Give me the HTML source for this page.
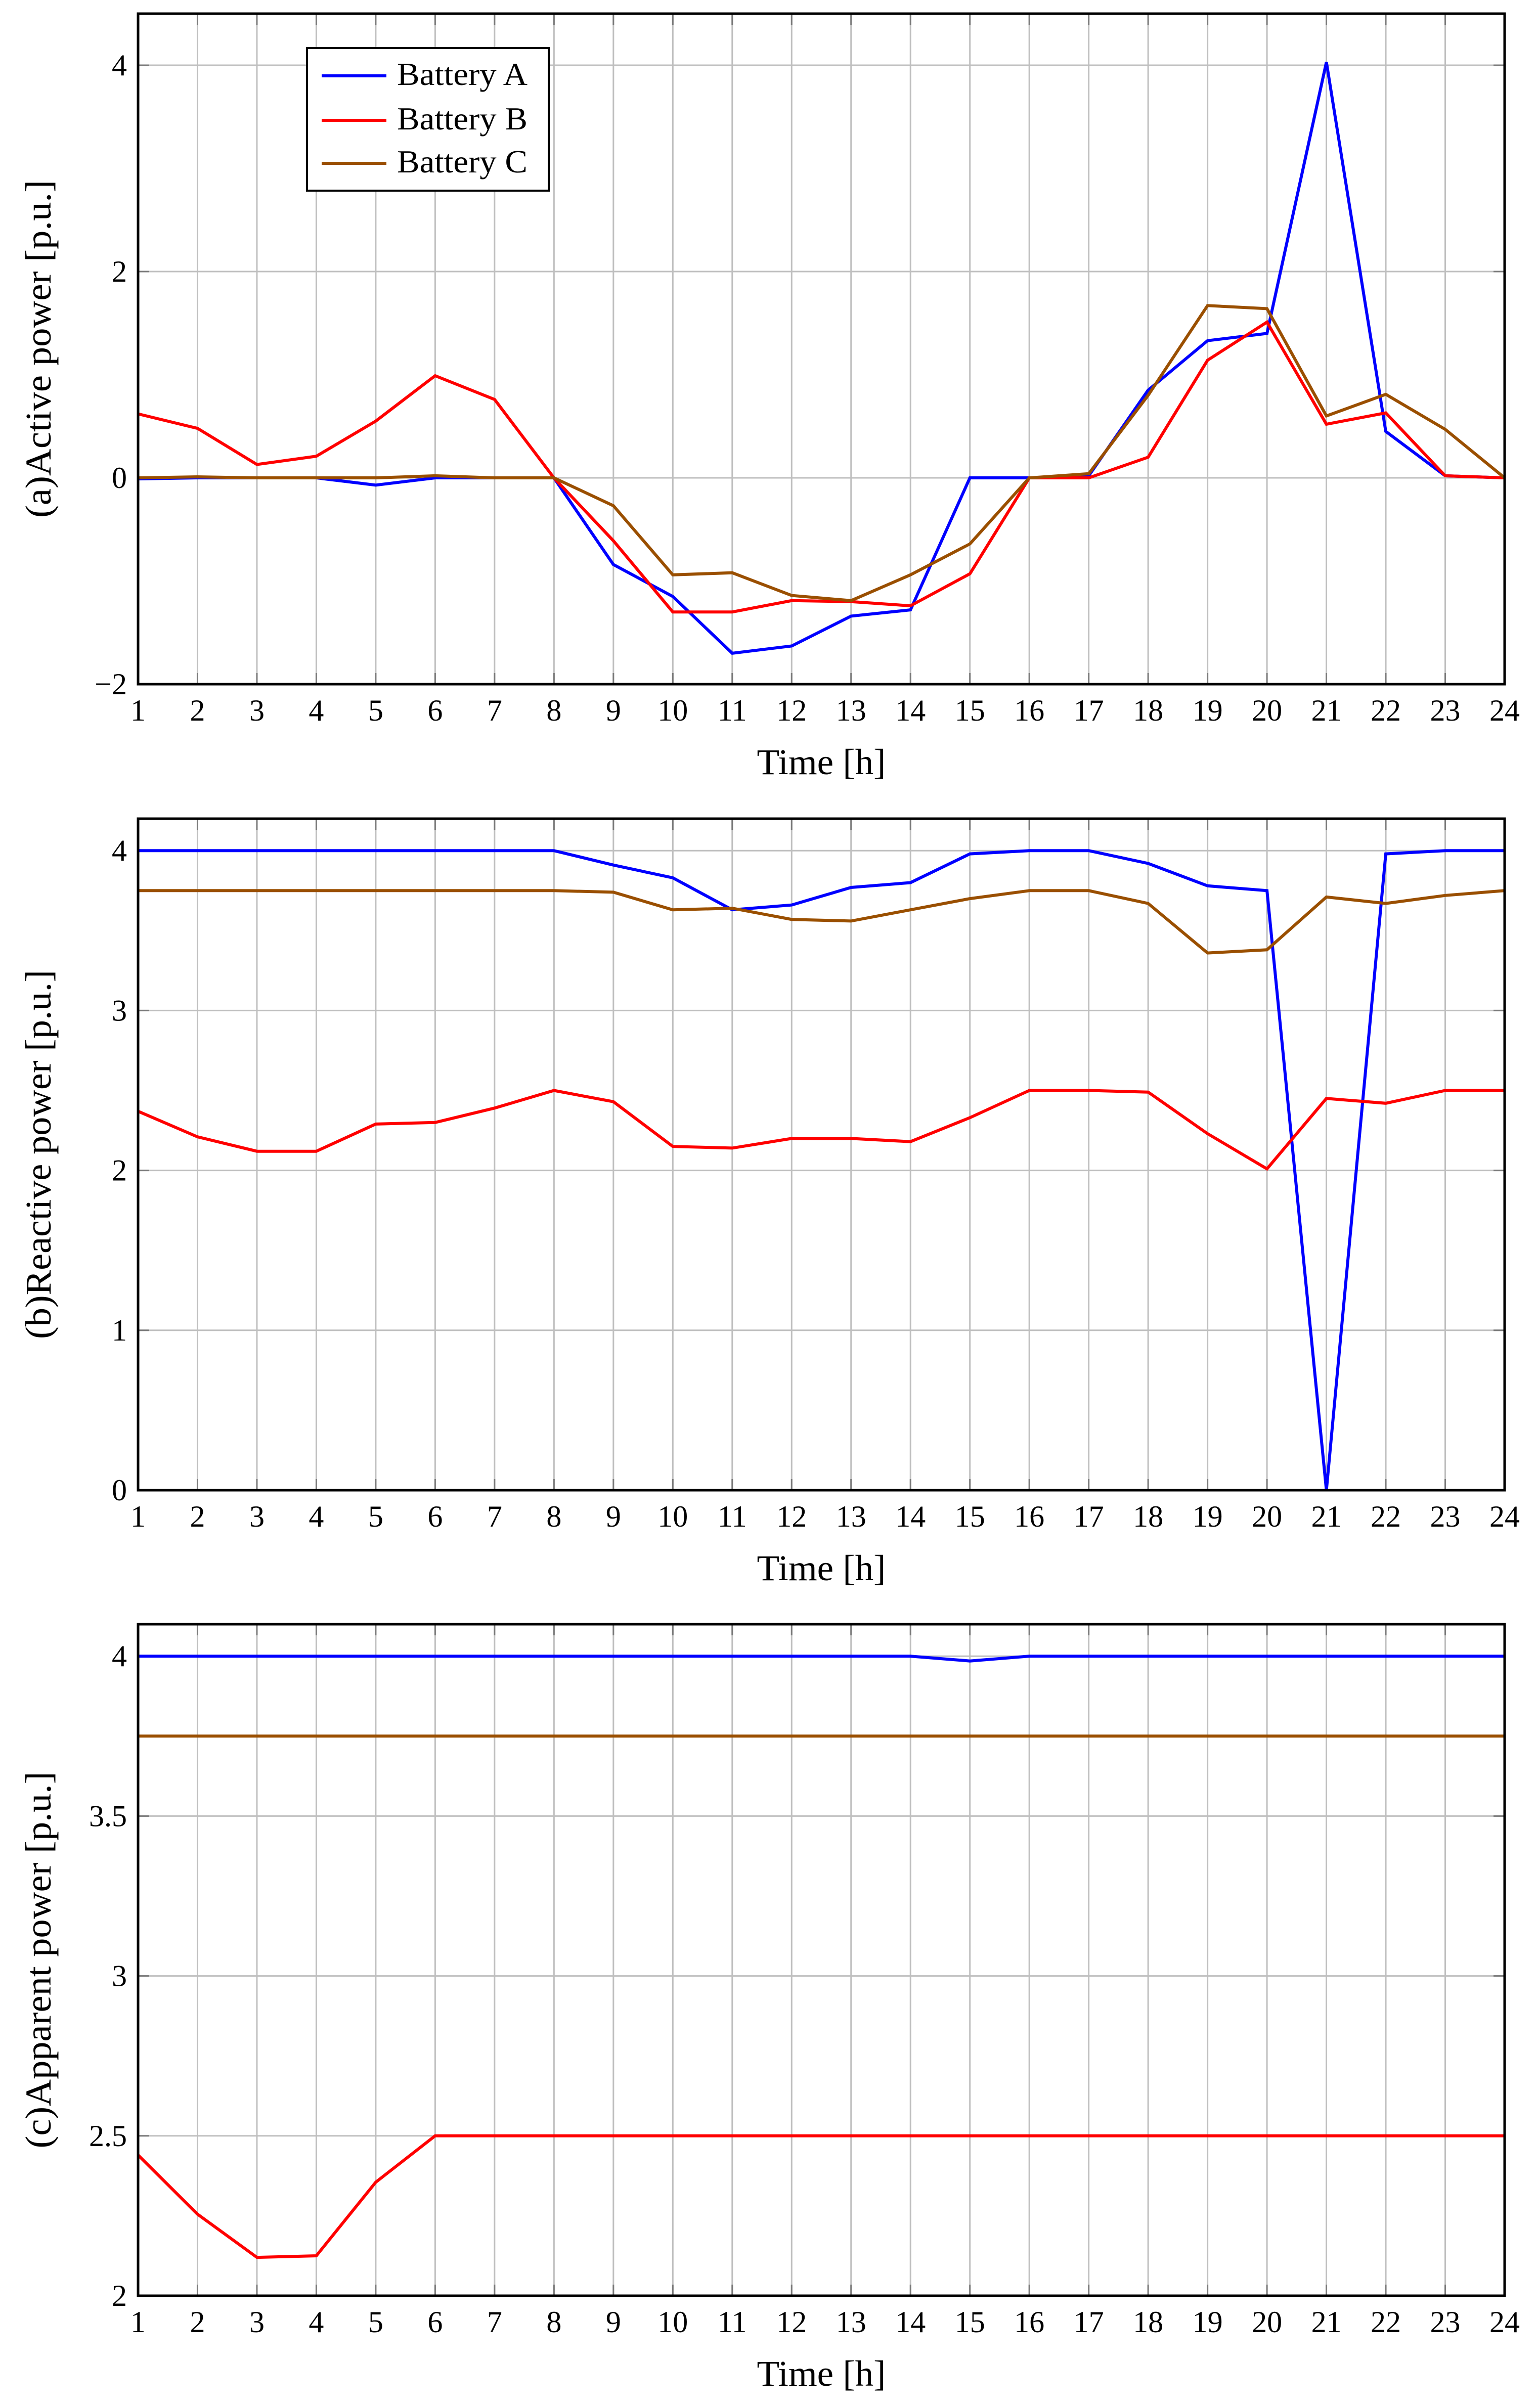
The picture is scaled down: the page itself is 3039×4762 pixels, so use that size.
<!DOCTYPE html>
<html><head><meta charset="utf-8">
<style>
html,body{margin:0;padding:0;background:#fff;}
svg{display:block;}
text{font-family:"Liberation Serif",serif;fill:#000;}
</style></head>
<body>
<svg id="chart" xmlns="http://www.w3.org/2000/svg" width="3039" height="4762" viewBox="0 0 3039 4762"></svg>
<script>
const hours = [1,2,3,4,5,6,7,8,9,10,11,12,13,14,15,16,17,18,19,20,21,22,23,24];
const seriesNames = ["Battery A","Battery B","Battery C"];
const activeA = [-0.01,0,0,0,-0.07,0,0,0,-0.84,-1.15,-1.70,-1.63,-1.34,-1.28,0,0,0.02,0.85,1.33,1.40,4.03,0.45,0.02,0];
const activeB = [0.62,0.48,0.13,0.21,0.55,0.99,0.76,0,-0.61,-1.30,-1.30,-1.19,-1.20,-1.24,-0.93,0,0,0.20,1.14,1.51,0.52,0.63,0.02,0];
const activeC = [0,0.01,0,0,0,0.02,0,0,-0.27,-0.94,-0.92,-1.14,-1.19,-0.94,-0.64,0,0.04,0.80,1.67,1.64,0.60,0.81,0.47,0];
const reactiveA = [4,4,4,4,4,4,4,4,3.91,3.83,3.63,3.66,3.77,3.80,3.98,4,4,3.92,3.78,3.75,0,3.98,4,4];
const reactiveB = [2.37,2.21,2.12,2.12,2.29,2.30,2.39,2.50,2.43,2.15,2.14,2.20,2.20,2.18,2.33,2.50,2.50,2.49,2.23,2.01,2.45,2.42,2.50,2.50];
const reactiveC = [3.75,3.75,3.75,3.75,3.75,3.75,3.75,3.75,3.74,3.63,3.64,3.57,3.56,3.63,3.70,3.75,3.75,3.67,3.36,3.38,3.71,3.67,3.72,3.75];
const apparentA = [4,4,4,4,4,4,4,4,4,4,4,4,4,4,3.985,4,4,4,4,4,4,4,4,4];
const apparentB = [2.44,2.255,2.12,2.125,2.355,2.5,2.5,2.5,2.5,2.5,2.5,2.5,2.5,2.5,2.5,2.5,2.5,2.5,2.5,2.5,2.5,2.5,2.5,2.5];
const apparentC = [3.75,3.75,3.75,3.75,3.75,3.75,3.75,3.75,3.75,3.75,3.75,3.75,3.75,3.75,3.75,3.75,3.75,3.75,3.75,3.75,3.75,3.75,3.75,3.75];
const ticksA = [-2,0,2,4];
const tickLabelsA = ["\u22122","0","2","4"];
const ticksB = [0,1,2,3,4];
const tickLabelsB = ["0","1","2","3","4"];
const ticksC = [2,2.5,3,3.5,4];
const tickLabelsC = ["2","2.5","3","3.5","4"];

const NS="http://www.w3.org/2000/svg";
const svg=document.getElementById('chart');
const colors=["#0000ff","#ff0000","#9a4f00"];
const L=273,R=2975;
function mk(tag,attrs,parent){const e=document.createElementNS(NS,tag);for(const k in attrs)e.setAttribute(k,attrs[k]);(parent||svg).appendChild(e);return e;}

function panel(id,top,bottom,ymin,ymax,ticks,tickLabels,series,ylabel,ylen,legend){
  const g=mk('g',{});
  
  
  const xs=h=>L+(h-1)/(23)*(R-L);
  const ys=v=>bottom-(v-ymin)/(ymax-ymin)*(bottom-top);
  hours.forEach(h=>{const l=mk('line',{x1:xs(h),x2:xs(h),y1:top,y2:bottom,stroke:'#bfbfbf','stroke-width':3},g);
    
    });
  ticks.forEach(v=>{const l=mk('line',{x1:L,x2:R,y1:ys(v),y2:ys(v),stroke:'#bfbfbf','stroke-width':3},g);
    
    });
  hours.forEach(h=>{mk('line',{x1:xs(h),x2:xs(h),y1:bottom,y2:bottom-22,stroke:'#7a7a7a','stroke-width':3},g);mk('line',{x1:xs(h),x2:xs(h),y1:top,y2:top+22,stroke:'#7a7a7a','stroke-width':3},g);});
  ticks.forEach(v=>{mk('line',{x1:L,x2:L+22,y1:ys(v),y2:ys(v),stroke:'#7a7a7a','stroke-width':3},g);mk('line',{x1:R,x2:R-22,y1:ys(v),y2:ys(v),stroke:'#7a7a7a','stroke-width':3},g);});
  series.forEach((vals,i)=>{
    const pts=vals.map((v,j)=>xs(hours[j]).toFixed(1)+','+ys(v).toFixed(1)).join(' ');
    const p=mk('polyline',{points:pts,fill:'none',stroke:colors[i],'stroke-width':6,'stroke-linejoin':'miter'},g);
    
    
  });
  const f=mk('rect',{x:L,y:top,width:R-L,height:bottom-top,fill:'none',stroke:'#000','stroke-width':5},g);
  
  
  hours.forEach(h=>{const t=mk('text',{x:xs(h),y:bottom+72,'font-size':60,'text-anchor':'middle'},g);t.textContent=h;
    
    });
  ticks.forEach((v,i)=>{const t=mk('text',{x:L-22,y:ys(v)+20,'font-size':60,'text-anchor':'end'},g);t.textContent=tickLabels[i];
    
    });
  const xt=mk('text',{x:(L+R)/2,y:bottom+178,'font-size':72,'text-anchor':'middle',textLength:255,lengthAdjust:'spacingAndGlyphs'},g);xt.textContent='Time [h]';
  
  
  const cy=(top+bottom)/2;
  const yt=mk('text',{x:0,y:0,'font-size':72,'text-anchor':'middle',textLength:ylen,lengthAdjust:'spacingAndGlyphs',transform:'translate(100,'+cy+') rotate(-90)'},g);yt.textContent=ylabel;
  
  
  if(legend){
    const lg=mk('g',{},g);
    
    
    mk('rect',{x:607,y:95,width:478,height:282,fill:'#fff',stroke:'#000','stroke-width':4},lg);
    const ly=[146,234,319];
    seriesNames.forEach((n,i)=>{
      const e=mk('g',{},lg);
      
      
      mk('line',{x1:636,x2:764,y1:ly[i]+4,y2:ly[i]+4,stroke:colors[i],'stroke-width':6},e);
      const t=mk('text',{x:914,y:ly[i]+22,'font-size':64,'text-anchor':'middle',textLength:258,lengthAdjust:'spacingAndGlyphs'},e);t.textContent=n;
    });
  }
}
panel('active',27,1353,-2,4.5,ticksA,tickLabelsA,[activeA,activeB,activeC],'(a)Active power [p.u.]',668,true);
panel('reactive',1619,2947,0,4.2,ticksB,tickLabelsB,[reactiveA,reactiveB,reactiveC],'(b)Reactive power [p.u.]',730,false);
panel('apparent',3212,4540,2,4.1,ticksC,tickLabelsC,[apparentA,apparentB,apparentC],'(c)Apparent power [p.u.]',745,false);
</script>
</body></html>
